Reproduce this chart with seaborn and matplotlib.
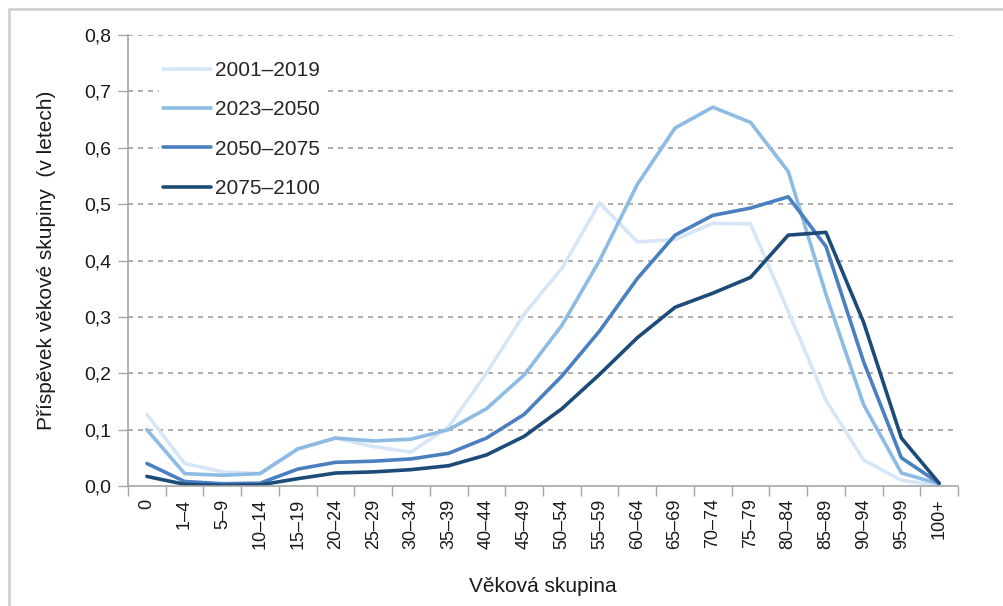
import numpy as np
import pandas as pd
import matplotlib
matplotlib.use("Agg")
import matplotlib.pyplot as plt
from matplotlib.ticker import FuncFormatter, FixedLocator
from matplotlib.lines import Line2D
import seaborn as sns

# data
age_groups = ["0", "1–4", "5–9", "10–14", "15–19", "20–24", "25–29", "30–34",
              "35–39", "40–44", "45–49", "50–54", "55–59", "60–64", "65–69",
              "70–74", "75–79", "80–84", "85–89", "90–94", "95–99", "100+"]
periods = ["2001–2019", "2023–2050", "2050–2075", "2075–2100"]

p2001_2019 = [0.127, 0.040, 0.025, 0.022, 0.065, 0.085, 0.070, 0.060, 0.105, 0.200,
              0.305, 0.386, 0.502, 0.433, 0.437, 0.466, 0.465, 0.310, 0.152, 0.046,
              0.010, 0.001]
p2023_2050 = [0.100, 0.022, 0.019, 0.022, 0.066, 0.085, 0.080, 0.083, 0.100, 0.137,
              0.197, 0.285, 0.400, 0.535, 0.635, 0.672, 0.645, 0.558, 0.340, 0.144,
              0.023, 0.004]
p2050_2075 = [0.040, 0.008, 0.004, 0.005, 0.030, 0.042, 0.044, 0.048, 0.058, 0.085,
              0.127, 0.195, 0.275, 0.368, 0.445, 0.480, 0.493, 0.513, 0.425, 0.220,
              0.050, 0.005]
p2075_2100 = [0.017, 0.003, 0.001, 0.002, 0.013, 0.023, 0.025, 0.029, 0.036, 0.055,
              0.088, 0.137, 0.198, 0.263, 0.317, 0.342, 0.370, 0.445, 0.450, 0.290,
              0.085, 0.005]

colors = ["#d6e6f6", "#8dbbe3", "#4a7fc0", "#1d4b78"]

series = [p2001_2019, p2023_2050, p2050_2075, p2075_2100]
df = pd.concat([pd.DataFrame({"age": age_groups, "value": vals, "period": name})
                for name, vals in zip(periods, series)], ignore_index=True)

sns.set_style("white")
plt.rcParams["font.family"] = ["Liberation Sans", "DejaVu Sans"]

fig = plt.figure(figsize=(10.04, 6.06), dpi=100)
ax = fig.add_axes([128 / 1004, 1 - 486 / 606, 830 / 1004, 451 / 606])

sns.lineplot(data=df, x="age", y="value", hue="period", hue_order=periods,
             palette=colors, linewidth=2.6, sort=False, ax=ax)

ax.set_xlim(-0.5, len(age_groups) - 0.5)
ax.set_ylim(0, 0.8)

# y axis
ax.set_yticks(np.arange(0, 0.81, 0.1))
ax.yaxis.set_major_formatter(FuncFormatter(lambda v, p: f"{v:.1f}".replace(".", ",")))
ax.tick_params(axis="y", length=7, width=1, color="#a6a6a6", labelsize=14,
               pad=5, left=True, labelcolor="#1a1a1a")
for v in np.arange(0.1, 0.81, 0.1):
    ax.axhline(v, color="#a0a0a0", lw=1.2, ls=(0, (3, 3)), zorder=0)

# x axis: labels at category centres, tick marks between categories
ax.set_xticks(range(len(age_groups)))
ax.set_xticklabels(age_groups, rotation=90, fontsize=13, color="#1a1a1a")
ax.xaxis.set_minor_locator(FixedLocator(np.arange(-0.5, len(age_groups), 1.0)))
ax.tick_params(axis="x", which="major", length=0, pad=9, bottom=True)
ax.tick_params(axis="x", which="minor", length=7, width=1, color="#a6a6a6", bottom=True)

for side in ["top", "right"]:
    ax.spines[side].set_visible(False)
for side in ["left", "bottom"]:
    ax.spines[side].set_color("#a6a6a6")
    ax.spines[side].set_linewidth(1.2)

ax.set_xlabel("Věková skupina", fontsize=15, color="#1a1a1a", labelpad=20)
ax.set_ylabel("Příspěvek věkové skupiny  (v letech)", fontsize=15, color="#1a1a1a",
              labelpad=20)

leg = ax.legend(loc="upper left", bbox_to_anchor=(0.025, 0.975), frameon=True,
                fontsize=15, handlelength=2.3, handletextpad=0.2,
                labelspacing=0.98, borderpad=0.2)
leg.get_frame().set_facecolor("white")
leg.get_frame().set_edgecolor("white")
leg.get_frame().set_alpha(1)
for line in leg.get_lines():
    line.set_linewidth(2.6)

# light outer frame of the original figure (top and left edges only)
fig.lines.append(Line2D([9 / 1004, 9 / 1004], [0, 1 - 9 / 606], transform=fig.transFigure,
                        color="#d0d0d0", lw=2))
fig.lines.append(Line2D([9 / 1004, 1], [1 - 9 / 606, 1 - 9 / 606], transform=fig.transFigure,
                        color="#d0d0d0", lw=2))

fig.savefig("out.png", dpi=100)
